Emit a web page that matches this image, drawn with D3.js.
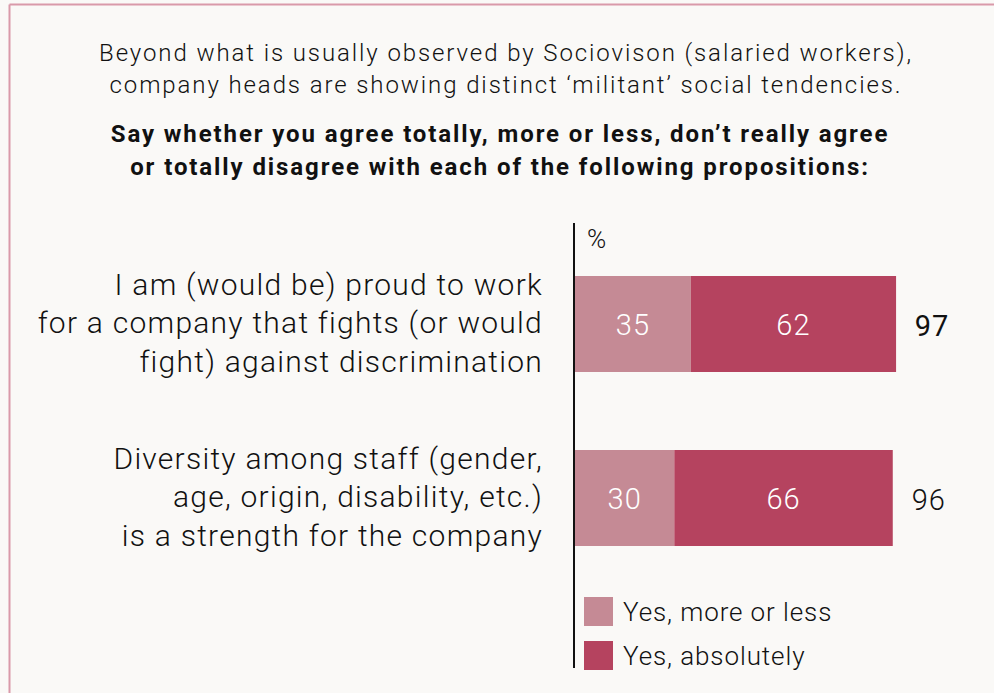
<!DOCTYPE html>
<html>
<head>
<meta charset="utf-8">
<script src="https://cdn.jsdelivr.net/npm/d3@7"></script>
<style>
  html, body { margin: 0; padding: 0; background: #faf9f7; }
  svg { display: block; }
  text { font-family: Roboto, "Noto Sans", sans-serif; }
</style>
</head>
<body>
<div id="chart"></div>
<script>
// chart data
var categories = [
    ["I am (would be) proud to work", "for a company that fights (or would", "fight) against discrimination"],
    ["Diversity among staff (gender,", "age, origin, disability, etc.)", "is a strength for the company"]
]
var moreOrLess = [35, 30]
var absolutely = [62, 66]
var totals = [97, 96]
var seriesNames = ["Yes, more or less", "Yes, absolutely"]
var seriesColors = ["#c58a95", "#b5435f"]

var titleLines = ["Beyond what is usually observed by Sociovison (salaried workers),",
                  "company heads are showing distinct \u2018militant\u2019 social tendencies."]
var questionLines = ["Say whether you agree totally, more or less, don\u2019t really agree",
                     "or totally disagree with each of the following propositions:"]

var width = 994
var height = 693
var axisX = 574

var svg = d3.select("#chart").append("svg")
    .attr("width", width)
    .attr("height", height)

// frame
svg.append("rect")
    .attr("x", 0).attr("y", 0)
    .attr("width", width).attr("height", height)
    .attr("fill", "#faf9f7")
svg.append("line")
    .attr("x1", 9.5).attr("x2", width)
    .attr("y1", 4.5).attr("y2", 4.5)
    .attr("stroke", "#d99aaa").attr("stroke-width", 2)
svg.append("line")
    .attr("x1", 9.5).attr("x2", 9.5)
    .attr("y1", 4.5).attr("y2", height)
    .attr("stroke", "#d99aaa").attr("stroke-width", 2)

// titles
svg.selectAll(".title")
    .data(titleLines)
    .enter()
    .append("text")
    .attr("class", "title")
    .attr("x", 506)
    .attr("y", function(d, i) { return 61 + i * 32 })
    .attr("text-anchor", "middle")
    .attr("font-size", "24px")
    .attr("font-weight", 300)
    .attr("letter-spacing", "1.9px")
    .attr("fill", "#111")
    .text(function(d) { return d })

svg.selectAll(".question")
    .data(questionLines)
    .enter()
    .append("text")
    .attr("class", "question")
    .attr("x", 500)
    .attr("y", function(d, i) { return 142 + i * 33 })
    .attr("text-anchor", "middle")
    .attr("font-size", "24px")
    .attr("font-weight", 700)
    .attr("letter-spacing", "1.9px")
    .attr("fill", "#111")
    .text(function(d) { return d })

// scales
var x = d3.scaleLinear()
    .domain([0, 100])
    .range([axisX + 1, axisX + 1 + 331])

var y = d3.scaleBand()
    .domain(d3.range(categories.length))
    .range([276, 546])
    .paddingInner(78 / 174)

// category labels
var labelGroup = svg.append("g").attr("id", "labels")
categories.forEach(function(lines, ci) {
    var cy = y(ci) + y.bandwidth() / 2
    labelGroup.selectAll(".lab" + ci)
        .data(lines)
        .enter()
        .append("text")
        .attr("class", "lab" + ci)
        .attr("x", 543)
        .attr("y", function(d, i) { return cy + 9 + (i - 1) * 38.5 })
        .attr("text-anchor", "end")
        .attr("font-size", "30px")
        .attr("font-weight", 300)
        .attr("letter-spacing", "1.25px")
        .attr("fill", "#111")
        .text(function(d) { return d })
})

// stacked bars
var stacked = categories.map(function(c, i) {
    return [
        {row: i, x0: 0, x1: moreOrLess[i], v: moreOrLess[i], s: 0},
        {row: i, x0: moreOrLess[i], x1: moreOrLess[i] + absolutely[i], v: absolutely[i], s: 1}
    ]
})
var segs = [].concat.apply([], stacked)

svg.append("g").attr("id", "bars")
    .selectAll("rect")
    .data(segs)
    .enter()
    .append("rect")
    .attr("x", function(d) { return x(d.x0) })
    .attr("y", function(d) { return y(d.row) })
    .attr("width", function(d) { return x(d.x1) - x(d.x0) })
    .attr("height", y.bandwidth())
    .attr("fill", function(d) { return seriesColors[d.s] })

svg.append("g").attr("id", "barvalues")
    .selectAll("text")
    .data(segs)
    .enter()
    .append("text")
    .attr("x", function(d) { return (x(d.x0) + x(d.x1)) / 2 })
    .attr("y", function(d) { return y(d.row) + y.bandwidth() / 2 + 11 })
    .attr("text-anchor", "middle")
    .attr("font-size", "29px")
    .attr("font-weight", 300)
    .attr("letter-spacing", "1px")
    .attr("fill", "#fff")
    .text(function(d) { return d.v })

// totals
svg.append("g").attr("id", "totals")
    .selectAll("text")
    .data(totals)
    .enter()
    .append("text")
    .attr("x", function(d, i) { return x(moreOrLess[i] + absolutely[i]) + 36 })
    .attr("y", function(d, i) { return y(i) + y.bandwidth() / 2 + 12 })
    .attr("text-anchor", "middle")
    .attr("font-size", "29px")
    .attr("font-weight", function(d, i) { return i == 0 ? 400 : 300 })
    .attr("letter-spacing", "1px")
    .attr("fill", "#111")
    .text(function(d) { return d })

// vertical axis line
svg.append("line")
    .attr("x1", axisX).attr("x2", axisX)
    .attr("y1", 223).attr("y2", 668)
    .attr("stroke", "#111")
    .attr("stroke-width", 2)

svg.append("text")
    .attr("x", 587)
    .attr("y", 248)
    .attr("font-size", "26px")
    .attr("font-weight", 300)
    .attr("fill", "#111")
    .text("%")

// legend
var legend = svg.append("g").attr("id", "legend")
    .selectAll("g")
    .data(seriesNames)
    .enter()
    .append("g")
    .attr("transform", function(d, i) { return "translate(584," + (597 + i * 44) + ")" })
legend.append("rect")
    .attr("width", 29)
    .attr("height", 29)
    .attr("fill", function(d, i) { return seriesColors[i] })
legend.append("text")
    .attr("x", 39)
    .attr("y", 24)
    .attr("font-size", "26px")
    .attr("font-weight", 300)
    .attr("letter-spacing", "0.9px")
    .attr("fill", "#111")
    .text(function(d) { return d })
</script>
</body>
</html>
